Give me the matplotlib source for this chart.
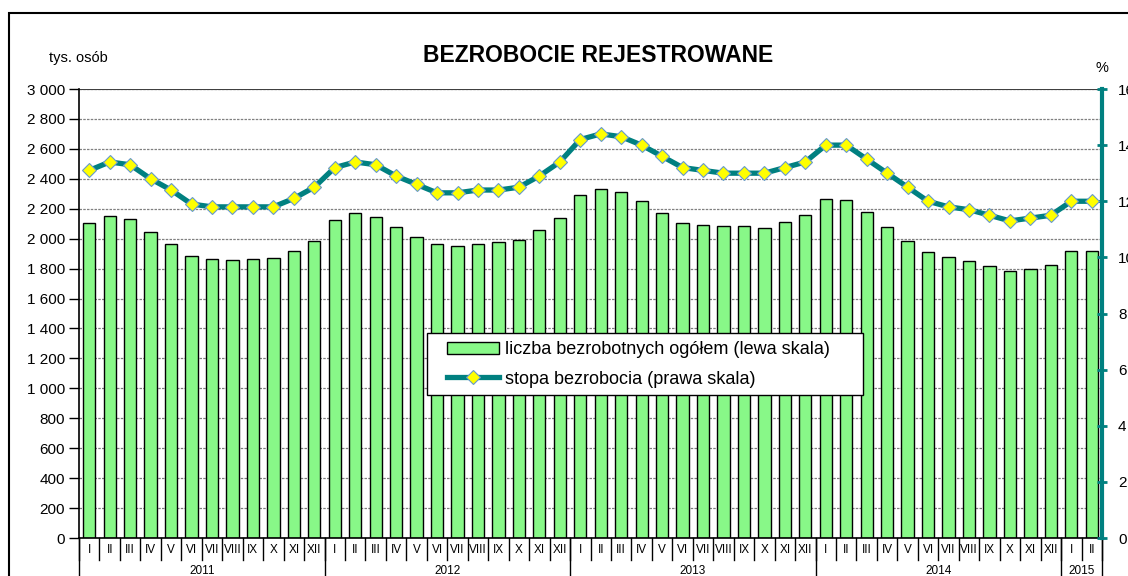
import matplotlib
matplotlib.use('Agg')
import matplotlib.pyplot as plt
from matplotlib.patches import Rectangle
from matplotlib.ticker import FixedLocator


roman = ['I', 'II', 'III', 'IV', 'V', 'VI', 'VII', 'VIII', 'IX', 'X', 'XI', 'XII']
years = ['2011', '2012', '2013', '2014', '2015']
months_per_year = [12, 12, 12, 12, 2]

# liczba bezrobotnych, tys. osob
unemployed = [
  2104, 2149, 2133, 2042, 1962, 1882, 1862, 1856, 1862, 1869, 1916, 1982,
  2122, 2169, 2142, 2076, 2013, 1962, 1953, 1962, 1978, 1993, 2056, 2136,
  2293, 2333, 2313, 2253, 2173, 2107, 2091, 2082, 2082, 2073, 2113, 2157,
  2262, 2256, 2180, 2080, 1987, 1911, 1878, 1851, 1820, 1784, 1800, 1824,
  1920, 1920,
]
# stopa bezrobocia, %
rate = [
  13.1, 13.4, 13.3, 12.8, 12.4, 11.9, 11.8, 11.8, 11.8, 11.8, 12.1, 12.5,
  13.2, 13.4, 13.3, 12.9, 12.6, 12.3, 12.3, 12.4, 12.4, 12.5, 12.9, 13.4,
  14.2, 14.4, 14.3, 14.0, 13.6, 13.2, 13.1, 13.0, 13.0, 13.0, 13.2, 13.4,
  14.0, 14.0, 13.5, 13.0, 12.5, 12.0, 11.8, 11.7, 11.5, 11.3, 11.4, 11.5,
  12.0, 12.0,
]
left_ticks = list(range(0, 3001, 200))
right_ticks = list(range(0, 17, 2))

teal = '#008080'
green = '#88F888'

plt.rcParams['font.family'] = ['Liberation Sans', 'DejaVu Sans']

month_labels = []
for n in months_per_year:
  month_labels += roman[:n]
x = list(range(len(unemployed)))

fig = plt.figure(figsize=(11.28, 5.76), dpi=100)
ax = fig.add_axes([79 / 1128, 38 / 576, 1023 / 1128, 449 / 576])
ax2 = ax.twinx()

ax.set_axisbelow(True)
ax.bar(x, unemployed, width=0.6, color=green, edgecolor='black', linewidth=1.0,
       label='liczba bezrobotnych ogółem (lewa skala)', zorder=2)
ax.set_xlim(-0.5, len(x) - 0.5)
ax.set_ylim(0, 3000)
ax.yaxis.set_major_locator(FixedLocator(left_ticks))
ax.set_yticklabels([f'{v:,}'.replace(',', ' ') for v in left_ticks])
ax.yaxis.grid(True, color='#808080', linestyle=(0, (2, 1)), linewidth=0.9, zorder=0)
ax.axhline(3000, color='#404040', linewidth=1.5, zorder=1)
ax.tick_params(axis='y', direction='out', length=7, width=1, pad=3, labelsize=11)
ax.set_xticks(x)
ax.set_xticklabels(month_labels, fontsize=8.5)
ax.tick_params(axis='x', length=0, pad=4)
for s in ['top', 'right']:
  ax.spines[s].set_visible(False)
ax.spines['left'].set_linewidth(1.2)
ax.spines['bottom'].set_linewidth(1.2)

line, = ax2.plot(x, rate, color=teal, linewidth=3.8, marker='D', markersize=7,
                 markerfacecolor='#FFFF00', markeredgecolor='#6699CC', markeredgewidth=0.8,
                 label='stopa bezrobocia (prawa skala)', zorder=3)
ax2.set_ylim(0, 16)
ax2.yaxis.set_major_locator(FixedLocator(right_ticks))
ax2.tick_params(axis='y', direction='inout', length=7, width=2, color=teal, pad=8, labelsize=11)
for s in ['top', 'left', 'bottom']:
  ax2.spines[s].set_visible(False)
ax2.spines['right'].set_color(teal)
ax2.spines['right'].set_linewidth(3)

# separators of the category axis
trans = ax.get_xaxis_transform()
for i in range(len(x) + 1):
  ax.plot([i - 0.5, i - 0.5], [0, -22 / 449], color='black', linewidth=1, transform=trans, clip_on=False)
start = 0
for year, n in zip(years, months_per_year):
  ax.plot([start - 0.5, start - 0.5], [0, -0.2], color='black', linewidth=1, transform=trans, clip_on=False)
  ax.text(start + (n - 1) / 2, -33 / 449, year, ha='center', va='center', fontsize=8.5,
          transform=trans)
  start += n
ax.plot([start - 0.5, start - 0.5], [0, -0.2], color='black', linewidth=1, transform=trans, clip_on=False)

fig.text(598 / 1128, 1 - 55 / 576, 'BEZROBOCIE REJESTROWANE', ha='center', va='center',
         fontsize=16.5, fontweight='bold')
fig.text(78 / 1128, 1 - 58 / 576, 'tys. osób', ha='center', va='center', fontsize=10.5)
fig.text(1102 / 1128, 1 - 68 / 576, '%', ha='center', va='center', fontsize=10.5)

# legend box drawn separately so the entries can sit inset like the original
fig.patches.append(Rectangle((427 / 1128, 1 - 395 / 576), 436 / 1128, 62 / 576,
                             transform=fig.transFigure, facecolor='white', edgecolor='black',
                             linewidth=1.0, zorder=4))
handles = [ax.containers[0], line]
leg = fig.legend(handles, [h.get_label() for h in handles],
                 bbox_to_anchor=(447 / 1128, 1 - 364.5 / 576), loc='center left',
                 borderaxespad=0, borderpad=0, fontsize=13, frameon=False,
                 handlelength=2.9, handletextpad=0.33, labelspacing=0.67, numpoints=1)
leg.set_zorder(5)

fig.patches.append(Rectangle((9 / 1128, -0.5), 2, 0.5 + 1 - 13 / 576, transform=fig.transFigure,
                             fill=False, edgecolor='black', linewidth=1.5))

fig.savefig('out.png', dpi=100)
